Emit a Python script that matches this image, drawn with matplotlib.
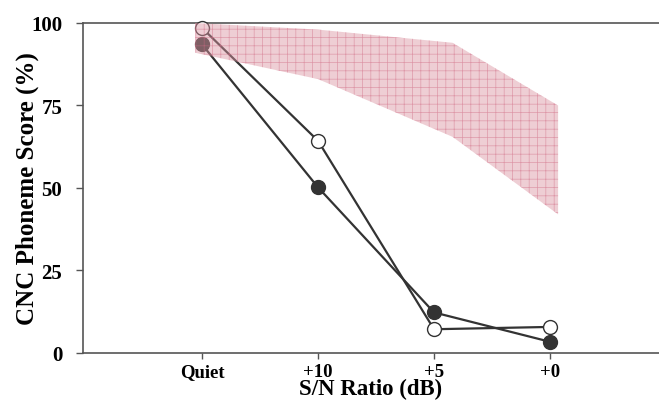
import numpy as np
import matplotlib.pyplot as plt

# -------------------------------------------------
# DATA
# -------------------------------------------------
conditions = ["Quiet", "+10", "+5", "+0"]
cond_x = [1, 2, 3, 4]

open_scores = [98.5, 64.3, 7.2, 7.9]
filled_scores = [93.5, 50.2, 12.3, 3.4]

# normal range band
band_x = [0.94, 2.0, 3.16, 4.07]
band_upper = [100, 98, 94, 75]
band_lower = [91, 83, 65.5, 42]

yticks = [0, 25, 50, 75, 100]

# -------------------------------------------------
# PLOT
# -------------------------------------------------
plt.rcParams["font.family"] = ["Liberation Serif", "DejaVu Serif"]
plt.rcParams["font.weight"] = "bold"
plt.rcParams["hatch.linewidth"] = 0.5

fig = plt.figure(figsize=(6.59, 4.10), dpi=100)
ax = fig.add_axes([0.126, 0.1366, 0.874, 0.8049])

line_col = "#333333"
ax.plot(cond_x, open_scores, color=line_col, lw=1.6, marker="o", ms=10,
        mfc="white", mec=line_col, mew=1.0, zorder=3, clip_on=False)
ax.plot(cond_x, filled_scores, color=line_col, lw=1.6, marker="o", ms=10,
        mfc=line_col, mec=line_col, mew=1.0, zorder=3, clip_on=False)

ax.fill_between(band_x, band_lower, band_upper, facecolor=(0.86, 0.58, 0.63, 0.45),
                edgecolor=(0.82, 0.42, 0.52, 0.55), hatch="++", lw=0, zorder=4)

ax.set_xlim(-0.026, 4.94)
ax.set_ylim(0, 100)
ax.set_xticks(cond_x)
ax.set_xticklabels(conditions)
ax.set_yticks(yticks)

spine_col = "#555555"
for side in ["left", "top", "bottom"]:
    ax.spines[side].set_color(spine_col)
    ax.spines[side].set_linewidth(1.2)
ax.spines["right"].set_visible(False)

ax.tick_params(axis="y", direction="out", length=5, width=1.0, color=spine_col,
               labelsize=15, pad=10)
ax.tick_params(axis="x", direction="out", length=4, width=1.0, color=spine_col,
               labelsize=13.5, pad=3)

ax.set_xlabel("S/N Ratio (dB)", fontsize=16.5, fontweight="bold", labelpad=-1)
ax.set_ylabel("CNC Phoneme Score (%)", fontsize=18, fontweight="bold", labelpad=-6)

plt.savefig("out.png", dpi=100)
plt.close()
